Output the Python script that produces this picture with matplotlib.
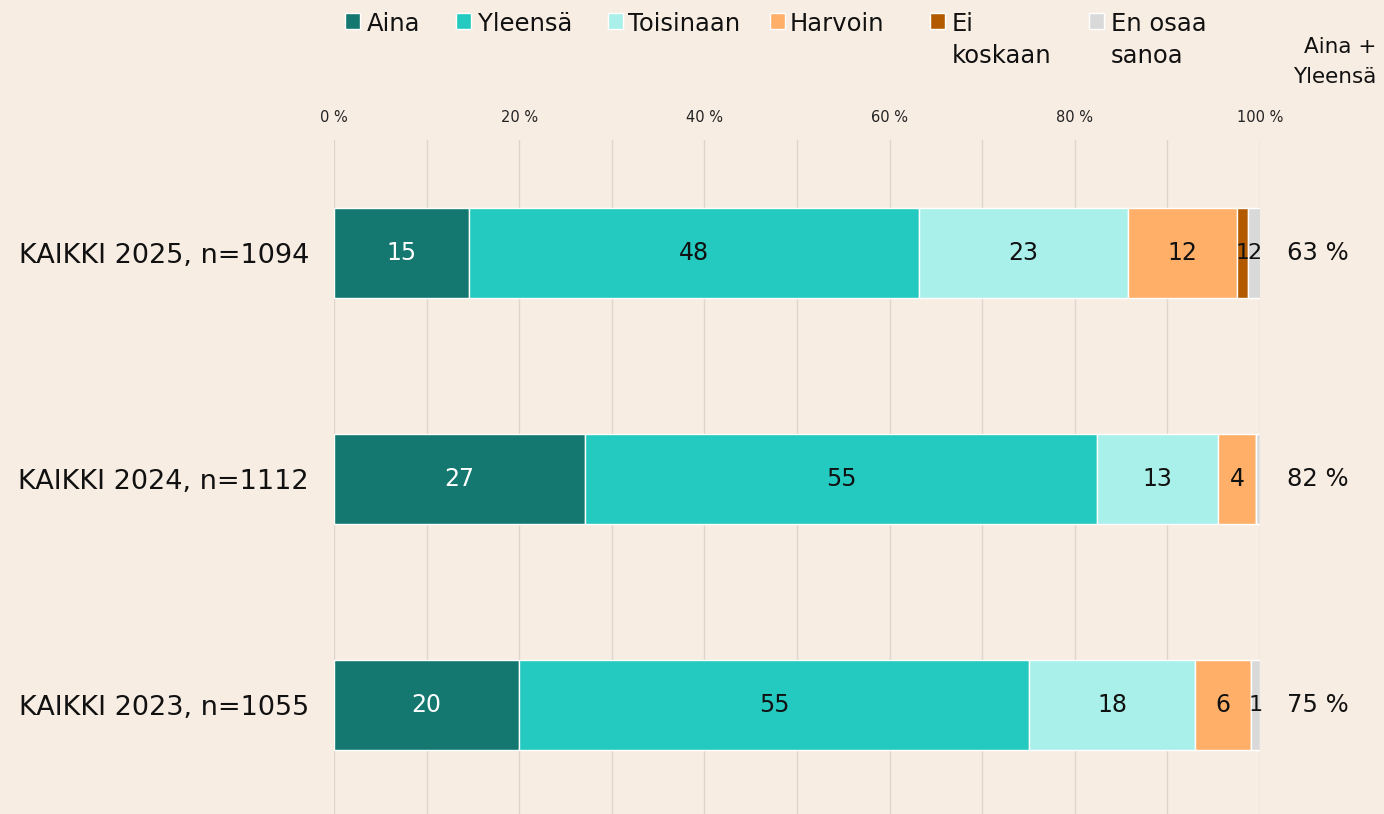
import matplotlib
matplotlib.use("Agg")
import matplotlib.pyplot as plt
from matplotlib.patches import Rectangle
from matplotlib.transforms import blended_transform_factory

# ---- data ----
categories = ["KAIKKI 2025, n=1094", "KAIKKI 2024, n=1112", "KAIKKI 2023, n=1055"]
series_names = ["Aina", "Yleensä", "Toisinaan", "Harvoin", "Ei\nkoskaan", "En osaa\nsanoa"]
aina = [14.6, 27.1, 20.0]
yleensa = [48.6, 55.3, 55.1]
toisinaan = [22.5, 13.1, 17.9]
harvoin = [11.8, 4.1, 6.0]
ei_koskaan = [1.2, 0.0, 0.0]
en_osaa = [1.4, 0.4, 1.0]
lab_aina = ["15", "27", "20"]
lab_yleensa = ["48", "55", "55"]
lab_toisinaan = ["23", "13", "18"]
lab_harvoin = ["12", "4", "6"]
lab_ei_koskaan = ["1", "", ""]
lab_en_osaa = ["2", "", "1"]
aina_plus_yleensa = [63, 82, 75]
xtick_values = [0, 20, 40, 60, 80, 100]

colors = ["#147870", "#24C9C0", "#AAF0EA", "#FFAF68", "#B35A00", "#D9D9D9"]
label_colors = ["white", "#111111", "#111111", "#111111", "#111111", "#111111"]
label_sizes = [17, 17, 17, 17, 16, 16]
bg = "#F8EDE3"

series = [aina, yleensa, toisinaan, harvoin, ei_koskaan, en_osaa]
labels = [lab_aina, lab_yleensa, lab_toisinaan, lab_harvoin, lab_ei_koskaan, lab_en_osaa]

plt.rcParams['font.family'] = ['DejaVu Sans']

W, H = 1384, 814
fig = plt.figure(figsize=(W / 100, H / 100), dpi=100, facecolor=bg)
ax = fig.add_axes([334 / W, (H - 818) / H, 926 / W, 678 / H], facecolor=bg)

ypos = list(range(len(categories)))
left = [0.0] * len(categories)
for vals, col, labs, lc, fs in zip(series, colors, labels, label_colors, label_sizes):
    cont = ax.barh(ypos, vals, left=left, height=0.4, color=col,
                   edgecolor="white", linewidth=1, zorder=3)
    ax.bar_label(cont, labels=labs, label_type="center", color=lc,
                 fontsize=fs)
    left = [l + v for l, v in zip(left, vals)]

ax.set_ylim(2.5, -0.5)
ax.set_xlim(0, 100)
ax.set_yticks(ypos)
ax.set_yticklabels(categories, fontsize=19.5, color="#111111")
ax.tick_params(axis="y", length=0, pad=18)

ax.xaxis.tick_top()
ax.set_xticks(range(0, 101, 10))
ax.set_xticklabels([f"{v} %" if v in xtick_values else "" for v in range(0, 101, 10)],
                   fontsize=10.5, color="#222222")
ax.tick_params(axis="x", length=0, pad=11)
ax.grid(axis="x", color="#DCD6CE", linewidth=1, zorder=0)
for s in ax.spines.values():
    s.set_visible(False)

tr = blended_transform_factory(ax.transAxes, ax.transData)
for i, v in enumerate(aina_plus_yleensa):
    ax.text((1318 - 334) / 926, i, f"{v} %", transform=tr, ha="center",
            va="center", fontsize=17.5, color="#111111")

# legend (manual)
leg_sq_x = [345, 456, 608, 770, 930, 1089]
leg_tx_x = [367, 478, 628, 790, 952, 1111]
for name, col, sx, tx in zip(series_names, colors, leg_sq_x, leg_tx_x):
    fig.patches.append(Rectangle((sx / W, (H - 29) / H), 15 / W, 16 / H,
                                 transform=fig.transFigure, facecolor=col,
                                 edgecolor="white", linewidth=1))
    for k, line in enumerate(name.split("\n")):
        fig.text(tx / W, (H - 31 - 32 * k) / H, line, ha="left",
                 va="baseline", fontsize=17.5, color="#111111")
for k, line in enumerate(["Aina +", "Yleensä"]):
    fig.text(1376 / W, (H - 53 - 30 * k) / H, line, ha="right",
             va="baseline", fontsize=15.5, color="#111111")

fig.savefig("out.png", dpi=100, facecolor=bg)
